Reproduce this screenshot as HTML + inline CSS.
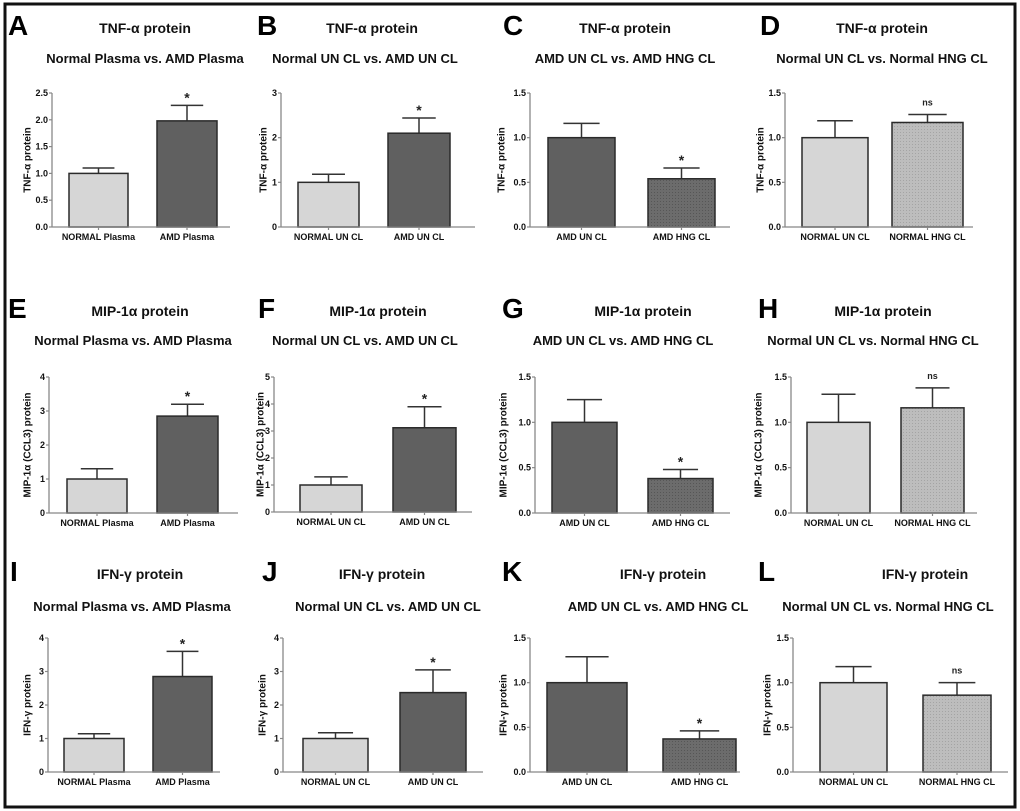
<!DOCTYPE html>
<html><head><meta charset="utf-8">
<style>
html,body{margin:0;padding:0;background:#fff;}
svg{display:block;font-family:"Liberation Sans",Arial,sans-serif;}
</style></head>
<body>
<svg id="fig" width="1020" height="811" viewBox="0 0 1020 811">
<defs>
<pattern id="pd" width="3" height="3" patternUnits="userSpaceOnUse"><rect width="3" height="3" fill="#6c6c6c"/><rect width="1" height="1" fill="#565656"/></pattern>
<pattern id="pl" width="3" height="3" patternUnits="userSpaceOnUse"><rect width="3" height="3" fill="#bdbdbd"/><rect width="1" height="1" fill="#a4a4a4"/></pattern>
</defs>
<rect x="5" y="4" width="1010" height="803" fill="none" stroke="#111" stroke-width="3"/>
</svg>
<script>
// ---- data arrays ----
const categoriesA = ["NORMAL Plasma","AMD Plasma"]; const valuesA = [1.0,1.98]; const errorsA = [0.10,0.29]; const ticksA = ["0.0","0.5","1.0","1.5","2.0","2.5"]; const marksA = ["","*"];
const categoriesB = ["NORMAL UN CL","AMD UN CL"]; const valuesB = [1.0,2.1]; const errorsB = [0.18,0.34]; const ticksB = ["0","1","2","3"]; const marksB = ["","*"];
const categoriesC = ["AMD UN CL","AMD HNG CL"]; const valuesC = [1.0,0.54]; const errorsC = [0.16,0.12]; const ticksC = ["0.0","0.5","1.0","1.5"]; const marksC = ["","*"];
const categoriesD = ["NORMAL UN CL","NORMAL HNG CL"]; const valuesD = [1.0,1.17]; const errorsD = [0.19,0.09]; const ticksD = ["0.0","0.5","1.0","1.5"]; const marksD = ["","ns"];
const categoriesE = ["NORMAL Plasma","AMD Plasma"]; const valuesE = [1.0,2.85]; const errorsE = [0.30,0.35]; const ticksE = ["0","1","2","3","4"]; const marksE = ["","*"];
const categoriesF = ["NORMAL UN CL","AMD UN CL"]; const valuesF = [1.0,3.12]; const errorsF = [0.30,0.78]; const ticksF = ["0","1","2","3","4","5"]; const marksF = ["","*"];
const categoriesG = ["AMD UN CL","AMD HNG CL"]; const valuesG = [1.0,0.38]; const errorsG = [0.25,0.10]; const ticksG = ["0.0","0.5","1.0","1.5"]; const marksG = ["","*"];
const categoriesH = ["NORMAL UN CL","NORMAL HNG CL"]; const valuesH = [1.0,1.16]; const errorsH = [0.31,0.22]; const ticksH = ["0.0","0.5","1.0","1.5"]; const marksH = ["","ns"];
const categoriesI = ["NORMAL Plasma","AMD Plasma"]; const valuesI = [1.0,2.85]; const errorsI = [0.14,0.75]; const ticksI = ["0","1","2","3","4"]; const marksI = ["","*"];
const categoriesJ = ["NORMAL UN CL","AMD UN CL"]; const valuesJ = [1.0,2.37]; const errorsJ = [0.17,0.68]; const ticksJ = ["0","1","2","3","4"]; const marksJ = ["","*"];
const categoriesK = ["AMD UN CL","AMD HNG CL"]; const valuesK = [1.0,0.37]; const errorsK = [0.29,0.09]; const ticksK = ["0.0","0.5","1.0","1.5"]; const marksK = ["","*"];
const categoriesL = ["NORMAL UN CL","NORMAL HNG CL"]; const valuesL = [1.0,0.86]; const errorsL = [0.18,0.14]; const ticksL = ["0.0","0.5","1.0","1.5"]; const marksL = ["","ns"];

const NS="http://www.w3.org/2000/svg";
const svg=document.getElementById('fig');
function mk(tag,attrs,parent){const e=document.createElementNS(NS,tag);for(const k in attrs)e.setAttribute(k,attrs[k]);(parent||svg).appendChild(e);return e;}

const panels=[
 {id:"A",cat:categoriesA,val:valuesA,err:errorsA,tk:ticksA,mk:marksA,title:"TNF-α protein",sub:"Normal Plasma vs. AMD Plasma",yl:"TNF-α protein",lx:8,ty:33,sy:63,tcx:145,scx:145,ax:52,top:93,bot:227,end:230,b:[[69,128],[157,217]],ylx:27,fills:["#d6d6d6","#606060"]},
 {id:"B",cat:categoriesB,val:valuesB,err:errorsB,tk:ticksB,mk:marksB,title:"TNF-α protein",sub:"Normal UN CL vs. AMD UN CL",yl:"TNF-α protein",lx:257,ty:33,sy:63,tcx:372,scx:365,ax:281,top:93,bot:227,end:475,b:[[298,359],[388,450]],ylx:263,fills:["#d6d6d6","#606060"]},
 {id:"C",cat:categoriesC,val:valuesC,err:errorsC,tk:ticksC,mk:marksC,title:"TNF-α protein",sub:"AMD UN CL vs. AMD HNG CL",yl:"TNF-α protein",lx:503,ty:33,sy:63,tcx:625,scx:625,ax:530,top:93,bot:227,end:730,b:[[548,615],[648,715]],ylx:501,fills:["#606060","url(#pd)"]},
 {id:"D",cat:categoriesD,val:valuesD,err:errorsD,tk:ticksD,mk:marksD,title:"TNF-α protein",sub:"Normal UN CL vs. Normal HNG CL",yl:"TNF-α protein",lx:760,ty:33,sy:63,tcx:882,scx:882,ax:785,top:93,bot:227,end:973,b:[[802,868],[892,963]],ylx:760,fills:["#d6d6d6","url(#pl)"]},
 {id:"E",cat:categoriesE,val:valuesE,err:errorsE,tk:ticksE,mk:marksE,title:"MIP-1α protein",sub:"Normal Plasma vs. AMD Plasma",yl:"MIP-1α (CCL3) protein",lx:8,ty:316,sy:345,tcx:140,scx:133,ax:49,top:377,bot:513,end:238,b:[[67,127],[157,218]],ylx:27,fills:["#d6d6d6","#606060"]},
 {id:"F",cat:categoriesF,val:valuesF,err:errorsF,tk:ticksF,mk:marksF,title:"MIP-1α protein",sub:"Normal UN CL vs. AMD UN CL",yl:"MIP-1α (CCL3) protein",lx:258,ty:316,sy:345,tcx:378,scx:365,ax:274,top:377,bot:512,end:472,b:[[300,362],[393,456]],ylx:260,fills:["#d6d6d6","#606060"]},
 {id:"G",cat:categoriesG,val:valuesG,err:errorsG,tk:ticksG,mk:marksG,title:"MIP-1α protein",sub:"AMD UN CL vs. AMD HNG CL",yl:"MIP-1α (CCL3) protein",lx:502,ty:316,sy:345,tcx:643,scx:623,ax:535,top:377,bot:513,end:730,b:[[552,617],[648,713]],ylx:503,fills:["#606060","url(#pd)"]},
 {id:"H",cat:categoriesH,val:valuesH,err:errorsH,tk:ticksH,mk:marksH,title:"MIP-1α protein",sub:"Normal UN CL vs. Normal HNG CL",yl:"MIP-1α (CCL3) protein",lx:758,ty:316,sy:345,tcx:883,scx:873,ax:791,top:377,bot:513,end:977,b:[[807,870],[901,964]],ylx:758,fills:["#d6d6d6","url(#pl)"]},
 {id:"I",cat:categoriesI,val:valuesI,err:errorsI,tk:ticksI,mk:marksI,title:"IFN-γ protein",sub:"Normal Plasma vs. AMD Plasma",yl:"IFN-γ protein",lx:10,ty:579,sy:611,tcx:140,scx:132,ax:48,top:638,bot:772,end:220,b:[[64,124],[153,212]],ylx:27,fills:["#d6d6d6","#606060"]},
 {id:"J",cat:categoriesJ,val:valuesJ,err:errorsJ,tk:ticksJ,mk:marksJ,title:"IFN-γ protein",sub:"Normal UN CL vs. AMD UN CL",yl:"IFN-γ protein",lx:262,ty:579,sy:611,tcx:382,scx:388,ax:283,top:638,bot:772,end:483,b:[[303,368],[400,466]],ylx:262,fills:["#d6d6d6","#606060"]},
 {id:"K",cat:categoriesK,val:valuesK,err:errorsK,tk:ticksK,mk:marksK,title:"IFN-γ protein",sub:"AMD UN CL vs. AMD HNG CL",yl:"IFN-γ protein",lx:502,ty:579,sy:611,tcx:663,scx:658,ax:530,top:638,bot:772,end:740,b:[[547,627],[663,736]],ylx:503,fills:["#606060","url(#pd)"]},
 {id:"L",cat:categoriesL,val:valuesL,err:errorsL,tk:ticksL,mk:marksL,title:"IFN-γ protein",sub:"Normal UN CL vs. Normal HNG CL",yl:"IFN-γ protein",lx:758,ty:579,sy:611,tcx:925,scx:888,ax:793,top:638,bot:772,end:1008,b:[[820,887],[923,991]],ylx:767,fills:["#d6d6d6","url(#pl)"]}
];

panels.forEach(p=>{
  const g=mk('g',{});
  
  
  const ymax=parseFloat(p.tk[p.tk.length-1]);
  const y=v=>p.bot-(v/ymax)*(p.bot-p.top);
  const L=mk('text',{x:p.lx,y:p.ty+2,'font-size':28,'font-weight':'bold',fill:'#000'},g);L.textContent=p.id;
  
  
  const T=mk('text',{x:p.tcx,y:p.ty,'font-size':14,'font-weight':'bold','text-anchor':'middle',fill:'#111'},g);T.textContent=p.title;
  
  
  const S=mk('text',{x:p.scx,y:p.sy,'font-size':13,'font-weight':'bold','text-anchor':'middle',fill:'#111'},g);S.textContent=p.sub;
  
  
  const Y=mk('text',{x:0,y:0,'font-size':10,'font-weight':'bold','text-anchor':'middle',fill:'#111',transform:`translate(${p.ylx+3.5},${(p.top+p.bot)/2}) rotate(-90)`},g);Y.textContent=p.yl;
  
  
  p.val.forEach((v,i)=>{
    const [x0,x1]=p.b[i];const cx=(x0+x1)/2;
    const et=y(v+p.err[i]);
    const e1=mk('line',{x1:cx,x2:cx,y1:y(v),y2:et,stroke:'#333','stroke-width':1.5},g);
    
    
    const e2=mk('line',{x1:cx-(x1-x0)*0.27,x2:cx+(x1-x0)*0.27,y1:et,y2:et,stroke:'#333','stroke-width':1.5},g);
    
    
    const r=mk('rect',{x:x0,y:y(v),width:x1-x0,height:p.bot-y(v),fill:p.fills[i],stroke:'#2a2a2a','stroke-width':1.5},g);
    
    
    const c=mk('text',{x:cx,y:p.bot+13,'font-size':9,'font-weight':'bold','text-anchor':'middle',fill:'#111'},g);c.textContent=p.cat[i];
    
    
    if(p.mk[i]){
      const star=p.mk[i]==='*';
      const m=mk('text',{x:cx,y:et-(star?3:9),'font-size':star?14:9,'font-weight':'bold','text-anchor':'middle',fill:'#222'},g);m.textContent=p.mk[i];
      
      
    }
  });
  const ya=mk('line',{x1:p.ax,x2:p.ax,y1:p.top,y2:p.bot,stroke:'#888','stroke-width':1.3},g);
  
  
  const xa=mk('line',{x1:p.ax,x2:p.end,y1:p.bot,y2:p.bot,stroke:'#888','stroke-width':1.3},g);
  
  
  p.tk.forEach(t=>{
    const yy=y(parseFloat(t));
    mk('line',{x1:p.ax-3,x2:p.ax,y1:yy,y2:yy,stroke:'#888','stroke-width':1.2},g);
    const tl=mk('text',{x:p.ax-4,y:yy+3,'font-size':9,'font-weight':'bold','text-anchor':'end',fill:'#111'},g);tl.textContent=t;
    
    
  });
  p.b.forEach(bb=>{const cx=(bb[0]+bb[1])/2;mk('line',{x1:cx,x2:cx,y1:p.bot,y2:p.bot+3,stroke:'#888','stroke-width':1.2},g);});
});
</script>
</body></html>
